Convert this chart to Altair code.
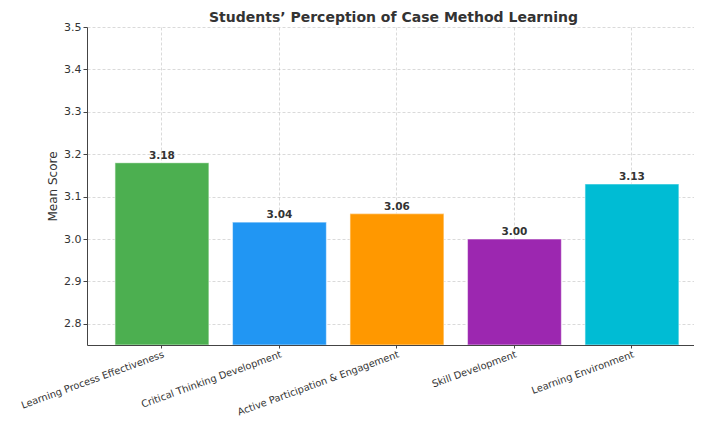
import altair as alt
import pandas as pd

categories = [
    "Learning Process Effectiveness",
    "Critical Thinking Development",
    "Active Participation & Engagement",
    "Skill Development",
    "Learning Environment",
]
scores = [3.18, 3.04, 3.06, 3.00, 3.13]
colors = ["#4CAF50", "#2196F3", "#FF9800", "#9C27B0", "#00BCD4"]
y_ticks = [2.8, 2.9, 3.0, 3.1, 3.2, 3.3, 3.4, 3.5]
y_min, y_max = 2.75, 3.5

df = pd.DataFrame({"Category": categories, "Score": scores, "Color": colors})

FONT = "DejaVu Sans"

x_enc = alt.X(
    "Category:N",
    sort=categories,
    title=None,
    scale=alt.Scale(paddingInner=0.2, paddingOuter=0.183, align=0.65),
    axis=alt.Axis(
        labelAngle=-20,
        labelAlign="right",
        labelBaseline="top",
        labelFontSize=9.8,
        labelPadding=1,
        tickSize=3,
        grid=True,
        bandPosition=0.5,
        labelLimit=300,
    ),
)
y_scale = alt.Scale(domain=[y_min, y_max], nice=False, zero=False)

bars = alt.Chart(df).mark_bar(
    clip=True, stroke="white", strokeWidth=1.2, strokeOpacity=0.55
).encode(
    x=x_enc,
    y=alt.Y(
        "Score:Q",
        scale=y_scale,
        title="Mean Score",
        axis=alt.Axis(
            values=y_ticks,
            format=".1f",
            labelFontSize=11,
            tickSize=4,
            labelPadding=2,
            titleFontSize=12,
            titleFontWeight="normal",
            titlePadding=4,
            grid=True,
        ),
    ),
    y2=alt.datum(y_min),
    color=alt.Color("Color:N", scale=None),
)

labels = alt.Chart(df).mark_text(
    baseline="alphabetic", dy=-4, fontSize=10.5, fontWeight="bold", color="#333333", font=FONT
).encode(
    x=alt.X("Category:N", sort=categories),
    y=alt.Y("Score:Q", scale=y_scale),
    text=alt.Text("Score:Q", format=".2f"),
)

chart = (
    alt.layer(bars, labels)
    .properties(
        width=607,
        height=318,
        title=alt.TitleParams(
            "Students\u2019 Perception of Case Method Learning",
            fontSize=14,
            fontWeight="bold",
            color="#333333",
            font=FONT,
            dx=3,
            offset=-4,
        ),
        autosize=alt.AutoSizeParams(type="none"),
        padding={"left": 79, "top": 19, "right": 0, "bottom": 72},
    )
    .configure(font=FONT)
    .configure_view(stroke=None)
    .configure_axis(
        zindex=1,
        labelFont=FONT,
        titleFont=FONT,
        labelColor="#333333",
        titleColor="#333333",
        domainColor="#444444",
        domainWidth=1,
        tickColor="#444444",
        gridColor="#b0b0b0",
        gridOpacity=0.6,
        gridDash=[3, 2],
        gridWidth=0.8,
    )
)

chart.save("out.html", embed_options={"renderer": "svg", "actions": False})
